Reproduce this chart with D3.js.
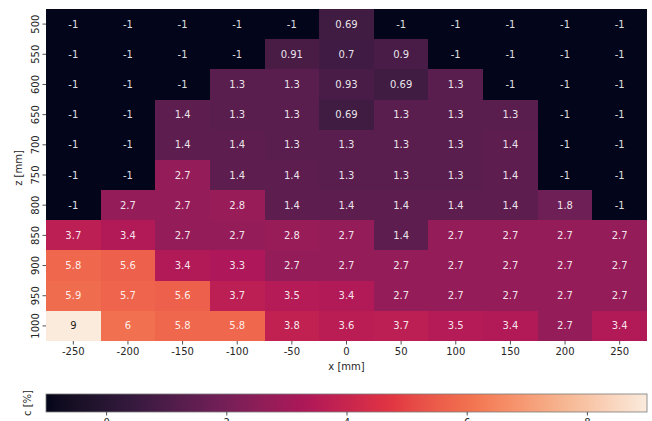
<!DOCTYPE html>
<html>
<head>
<meta charset="utf-8">
<script src="https://cdn.jsdelivr.net/npm/d3@7"></script>
<style>
  html, body { margin: 0; padding: 0; background: #fff; }
  svg { display: block; font-family: "DejaVu Sans", sans-serif; }
</style>
</head>
<body>
<svg id="chart" width="652" height="421"></svg>
<script>
// Horizontal positions (columns) and heights (rows), in mm
const xValues = [-250, -200, -150, -100, -50, 0, 50, 100, 150, 200, 250];
const zValues = [500, 550, 600, 650, 700, 750, 800, 850, 900, 950, 1000];

// Concentration c [%] per row (z), listed left to right along x
const row500  = [-1, -1, -1, -1, -1, 0.69, -1, -1, -1, -1, -1];
const row550  = [-1, -1, -1, -1, 0.91, 0.7, 0.9, -1, -1, -1, -1];
const row600  = [-1, -1, -1, 1.3, 1.3, 0.93, 0.69, 1.3, -1, -1, -1];
const row650  = [-1, -1, 1.4, 1.3, 1.3, 0.69, 1.3, 1.3, 1.3, -1, -1];
const row700  = [-1, -1, 1.4, 1.4, 1.3, 1.3, 1.3, 1.3, 1.4, -1, -1];
const row750  = [-1, -1, 2.7, 1.4, 1.4, 1.3, 1.3, 1.3, 1.4, -1, -1];
const row800  = [-1, 2.7, 2.7, 2.8, 1.4, 1.4, 1.4, 1.4, 1.4, 1.8, -1];
const row850  = [3.7, 3.4, 2.7, 2.7, 2.8, 2.7, 1.4, 2.7, 2.7, 2.7, 2.7];
const row900  = [5.8, 5.6, 3.4, 3.3, 2.7, 2.7, 2.7, 2.7, 2.7, 2.7, 2.7];
const row950  = [5.9, 5.7, 5.6, 3.7, 3.5, 3.4, 2.7, 2.7, 2.7, 2.7, 2.7];
const row1000 = [9, 6, 5.8, 5.8, 3.8, 3.6, 3.7, 3.5, 3.4, 2.7, 3.4];
const rows = [row500, row550, row600, row650, row700, row750, row800, row850, row900, row950, row1000];

const colorTicks = [0, 2, 4, 6, 8];
const colorDomain = [-1, 9];

// "rocket" style sequential palette
const rocketStops = ["#03051a", "#35193e", "#701f57", "#ad1759", "#e13342", "#f37651", "#f6b48f", "#faebdd"];
const rocket = d3.piecewise(d3.interpolateLab, rocketStops);
const color = d3.scaleSequential(rocket).domain(colorDomain);

const cells = [];
zValues.forEach((z, i) => xValues.forEach((x, j) => cells.push({ x, z, v: rows[i][j] })));

const svg = d3.select("#chart");
const plotLeft = 46, plotRight = 647, plotTop = 9, plotBottom = 341;

const xScale = d3.scaleBand().domain(xValues).range([plotLeft, plotRight]).padding(0);
const yScale = d3.scaleBand().domain(zValues).range([plotTop, plotBottom]).padding(0);

// Heatmap cells (drawn with a small overlap so no seams show between them)
const lastX = xValues[xValues.length - 1], lastZ = zValues[zValues.length - 1];
svg.append("g").attr("shape-rendering", "crispEdges")
  .selectAll("rect").data(cells).join("rect")
  .attr("x", d => xScale(d.x))
  .attr("y", d => yScale(d.z))
  .attr("width", d => xScale.bandwidth() + (d.x === lastX ? 0 : 1))
  .attr("height", d => yScale.bandwidth() + (d.z === lastZ ? 0 : 1))
  .attr("fill", d => color(d.v));

// Text colour follows cell luminance
function textColor(v) {
  const c = d3.rgb(color(v));
  const lin = u => { u /= 255; return u <= 0.03928 ? u / 12.92 : Math.pow((u + 0.055) / 1.055, 2.4); };
  const L = 0.2126 * lin(c.r) + 0.7152 * lin(c.g) + 0.0722 * lin(c.b);
  return L > 0.408 ? "#000" : "#fff";
}

svg.append("g").selectAll("text").data(cells).join("text")
  .attr("x", d => xScale(d.x) + xScale.bandwidth() / 2)
  .attr("y", d => yScale(d.z) + yScale.bandwidth() / 2)
  .attr("text-anchor", "middle")
  .attr("dominant-baseline", "central")
  .attr("font-size", 10)
  .attr("fill", d => textColor(d.v))
  .attr("fill-opacity", 0.9)
  .text(d => String(d.v));

// Axes
const axisColor = "#262626";
const xAxis = svg.append("g").attr("transform", `translate(0,${plotBottom})`)
  .call(d3.axisBottom(xScale).tickSizeOuter(0).tickSize(3.5).tickPadding(3).tickFormat(d => String(d)));
xAxis.select(".domain").remove();
xAxis.selectAll("line").attr("stroke", axisColor).attr("stroke-width", 0.8);
xAxis.selectAll("text").attr("font-size", 10).attr("fill", axisColor).attr("font-family", "DejaVu Sans");

const yAxis = svg.append("g").attr("transform", `translate(${plotLeft},0)`)
  .call(d3.axisLeft(yScale).tickSizeOuter(0).tickSize(3.5).tickFormat(d => String(d)));
yAxis.select(".domain").remove();
yAxis.selectAll("line").attr("stroke", axisColor).attr("stroke-width", 0.8);
yAxis.selectAll("text")
  .attr("font-size", 10).attr("fill", axisColor).attr("font-family", "DejaVu Sans")
  .attr("x", 0).attr("dy", null)
  .attr("text-anchor", "middle")
  .attr("dominant-baseline", "central")
  .attr("transform", "translate(-11,0) rotate(-90)");

svg.append("text")
  .attr("x", (plotLeft + plotRight) / 2).attr("y", 370)
  .attr("text-anchor", "middle").attr("font-size", 10).attr("fill", axisColor)
  .text("x [mm]");

svg.append("text")
  .attr("transform", "translate(18,168) rotate(-90)")
  .attr("text-anchor", "middle").attr("dominant-baseline", "central")
  .attr("font-size", 10).attr("fill", axisColor)
  .text("z [mm]");

// Colour bar
const cbTop = 394, cbBottom = 412;
const defs = svg.append("defs");
const grad = defs.append("linearGradient").attr("id", "cbgrad").attr("x1", "0%").attr("x2", "100%");
d3.range(0, 1.0001, 0.02).forEach(t => {
  grad.append("stop").attr("offset", `${t * 100}%`).attr("stop-color", rocket(t));
});
const cbScale = d3.scaleLinear().domain(colorDomain).range([plotLeft, plotRight]);
svg.append("rect")
  .attr("x", plotLeft).attr("y", cbTop)
  .attr("width", plotRight - plotLeft).attr("height", cbBottom - cbTop)
  .attr("fill", "url(#cbgrad)")
  .attr("stroke", "#7a7a7a").attr("stroke-width", 0.8);

const cbAxis = svg.append("g").attr("transform", `translate(0,${cbBottom})`)
  .call(d3.axisBottom(cbScale).tickValues(colorTicks).tickSize(3.5).tickPadding(3).tickFormat(d3.format("d")));
cbAxis.select(".domain").remove();
cbAxis.selectAll("line").attr("stroke", axisColor).attr("stroke-width", 0.8);
cbAxis.selectAll("text").attr("font-size", 10).attr("fill", axisColor).attr("font-family", "DejaVu Sans");

svg.append("text")
  .attr("transform", `translate(27,${(cbTop + cbBottom) / 2}) rotate(-90)`)
  .attr("text-anchor", "middle").attr("dominant-baseline", "central")
  .attr("font-size", 10).attr("fill", axisColor)
  .text("c [%]");
</script>
</body>
</html>
